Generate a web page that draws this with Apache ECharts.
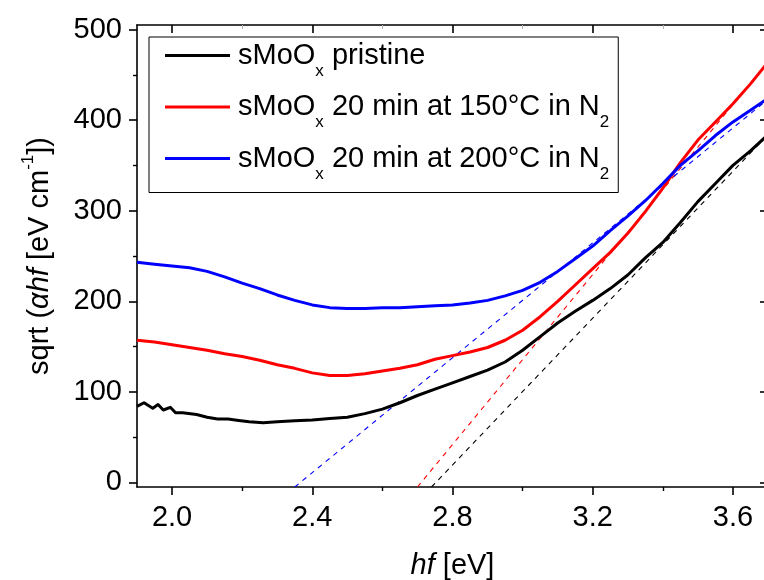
<!DOCTYPE html>
<html><head><meta charset="utf-8">
<script src="https://cdn.jsdelivr.net/npm/echarts@6/dist/echarts.min.js"></script>
<style>html,body{margin:0;padding:0;background:#fff}#c{width:764px;height:580px}</style>
</head><body><div id="c"></div>
<script>
// ---- tick labels ----
const xMajorTicks = [2.0, 2.4, 2.8, 3.2, 3.6];
const xMinorTicks = [2.2, 2.6, 3.0, 3.4];
const yMajorTicks = [0, 100, 200, 300, 400, 500];
const yMinorTicks = [50, 150, 250, 350, 450];

// ---- series: sMoOx pristine ----
const hfPristine = [1.90,1.92,1.945,1.96,1.975,1.995,2.01,2.03,2.07,2.10,2.13,2.16,2.19,2.22,2.26,2.30,2.35,2.40,2.45,2.50,2.55,2.60,2.65,2.70,2.75,2.80,2.85,2.90,2.95,3.00,3.05,3.10,3.15,3.20,3.25,3.30,3.35,3.40,3.45,3.50,3.55,3.60,3.65,3.70];
const valPristine = [84,88,82,86,80,83,77,77,75,72,70,70,68.5,67,66,67,68,69,70.5,72,76,81,88,96,103,110,117,124,133,146,161,176,189,201,214,229,248,265,287,310,330,350,366,384];

// ---- series on common grid (150 °C and 200 °C) ----
const hfGrid = [1.90,1.95,2.00,2.05,2.10,2.15,2.20,2.25,2.30,2.35,2.40,2.45,2.50,2.55,2.60,2.65,2.70,2.75,2.80,2.85,2.90,2.95,3.00,3.05,3.10,3.15,3.20,3.25,3.30,3.35,3.40,3.45,3.50,3.55,3.60,3.65,3.70];
const val150 = [157,155,152,149,146,142,139,135,130,126,121,118,118,120,123,126,130,136,140,144,149,157,168,183,200,218,236,254,275,299,325,353,378,398,418,440,464];
const val200 = [243,241,239,237,233,227,220,214,207,201,196,193,192,192,193,193,194,195,196,198,201,206,212,221,233,247,261,278,294,311,330,350,366,383,398,411,424];

// ---- linear fit (Tauc) lines: end points ----
const fitPristineHf = [2.74, 3.70];
const fitPristineVal = [-5, 384];
const fit150Hf = [2.70, 3.70];
const fit150Val = [-5, 464];
const fit200Hf = [2.35, 3.70];
const fit200Val = [-5, 423];

// ---- legend text parts ----
const legendBase = ['sMoO', 'sMoO', 'sMoO'];
const legendSub1 = ['x', 'x', 'x'];
const legendRest = [' pristine', ' 20 min at 150°C in N', ' 20 min at 200°C in N'];
const legendSub2 = ['', '2', '2'];
const seriesColors = ['#000000', '#ff0000', '#0000ff'];

const names = legendBase.map((b, i) => b + legendSub1[i] + legendRest[i] + legendSub2[i]);
const pairs = (xs, ys) => xs.map((x, i) => [x, ys[i]]);

const FONT = '"Liberation Sans", Arial, sans-serif';
const FS = 29;

function axisCommon(extra) {
  return Object.assign({
    type: 'value', gridIndex: 0,
    splitLine: { show: false },
    axisLine: { show: false, onZero: false },
    axisLabel: { show: false },
    axisTick: { show: false }
  }, extra);
}

const chart = echarts.init(document.getElementById('c'), null, { renderer: 'canvas' });

const solid = [pairs(hfPristine, valPristine), pairs(hfGrid, val150), pairs(hfGrid, val200)];
const fits = [pairs(fitPristineHf, fitPristineVal), pairs(fit150Hf, fit150Val), pairs(fit200Hf, fit200Val)];

const series = [];
fits.forEach((d, i) => series.push({
  type: 'line', name: 'fit' + i, data: d, symbol: 'none', z: 1, silent: true,
  lineStyle: { color: seriesColors[i], width: 1.1, type: [5, 5] }
}));
solid.forEach((d, i) => series.push({
  type: 'line', name: names[i], data: d, symbol: 'none', showSymbol: false, z: 3,
  color: seriesColors[i],
  lineStyle: { color: seriesColors[i], width: 3, join: 'round' }
}));

const xMin = 1.9, xMax = 3.7, yMin = -5, yMax = 505;

chart.setOption({
  animation: false,
  backgroundColor: '#fff',
  grid: { left: 137, right: -4, top: 25, bottom: 93, containLabel: false, outerBoundsMode: 'none' },
  legend: {
    orient: 'vertical', left: 149, top: 37,
    padding: [4, 9, 10, 16], itemGap: 13, itemWidth: 65, itemHeight: 3,
    borderColor: '#000', borderWidth: 1, backgroundColor: '#fff',
    selectedMode: false,
    data: names.map((n, i) => ({ name: n, icon: 'rect', itemStyle: { color: seriesColors[i] } })),
    formatter: function (name) {
      const i = names.indexOf(name);
      let s = '{m0|' + legendBase[i] + '}{s|' + legendSub1[i] + '}{m|' + legendRest[i] + '}';
      if (legendSub2[i]) s += '{s|' + legendSub2[i] + '}';
      return s;
    },
    textStyle: {
      color: '#000', fontSize: FS, fontFamily: FONT,
      rich: {
        m0: { fontSize: FS, fontFamily: FONT, color: '#000', lineHeight: 32, verticalAlign: 'middle', padding: [0, 0, 0, 3] },
        m: { fontSize: FS, fontFamily: FONT, color: '#000', lineHeight: 32, verticalAlign: 'middle' },
        s: { fontSize: 17, fontFamily: FONT, color: '#000', lineHeight: 1, height: 1, verticalAlign: 'bottom' }
      }
    }
  },
  xAxis: [
    axisCommon({
      position: 'bottom', min: xMin, max: xMax,
      axisLine: { show: true, onZero: false, lineStyle: { color: '#000', width: 1.6 } },
      axisTick: { show: true, inside: false, length: 8, customValues: xMajorTicks, lineStyle: { color: '#000', width: 1.6 } },
      axisLabel: { show: true, customValues: xMajorTicks, margin: 16, color: '#000', fontSize: FS, fontFamily: FONT,
        formatter: v => v.toFixed(1) },
      name: '{i|hf} [eV]', nameLocation: 'middle', nameGap: 64, nameMoveOverlap: false,
      nameTextStyle: { color: '#000', fontSize: FS, fontFamily: FONT, lineHeight: 30,
        rich: { i: { fontStyle: 'italic', fontSize: FS, fontFamily: FONT, color: '#000', lineHeight: 30 } } }
    }),
    axisCommon({
      position: 'bottom', min: xMin, max: xMax,
      axisTick: { show: true, inside: false, length: 4, customValues: xMinorTicks, lineStyle: { color: '#000', width: 1.4 } }
    }),
    axisCommon({
      position: 'top', min: xMin, max: xMax,
      axisLine: { show: true, onZero: false, lineStyle: { color: '#000', width: 1.6 } },
      axisTick: { show: true, inside: true, length: 8, customValues: xMajorTicks, lineStyle: { color: '#000', width: 1.6 } }
    }),
    axisCommon({
      position: 'top', min: xMin, max: xMax,
      axisTick: { show: true, inside: true, length: 4, customValues: xMinorTicks, lineStyle: { color: '#b0b0b0', width: 1 } }
    })
  ],
  yAxis: [
    axisCommon({
      position: 'left', min: yMin, max: yMax,
      axisLine: { show: true, onZero: false, lineStyle: { color: '#000', width: 1.6 } },
      axisTick: { show: true, inside: false, length: 8, customValues: yMajorTicks, lineStyle: { color: '#000', width: 1.6 } },
      axisLabel: { show: true, customValues: yMajorTicks, margin: 15, color: '#000', fontSize: FS, fontFamily: FONT },
      name: '{t|sqrt (}{i|αhf}{t| [eV cm}{sup|-1}{t|])}', nameLocation: 'middle', nameGap: 82, nameMoveOverlap: false,
      nameTextStyle: { color: '#000', fontSize: FS, fontFamily: FONT, lineHeight: 30,
        rich: {
          t: { fontSize: FS, fontFamily: FONT, color: '#000', lineHeight: 30, verticalAlign: 'middle' },
          i: { fontStyle: 'italic', fontSize: FS, fontFamily: FONT, color: '#000', lineHeight: 30, verticalAlign: 'middle' },
          sup: { fontSize: 17, fontFamily: FONT, color: '#000', lineHeight: 6, height: 6, verticalAlign: 'top' }
        } }
    }),
    axisCommon({
      position: 'left', min: yMin, max: yMax,
      axisTick: { show: true, inside: false, length: 4, customValues: yMinorTicks, lineStyle: { color: '#000', width: 1.4 } }
    }),
    axisCommon({
      position: 'right', min: yMin, max: yMax,
      axisLine: { show: true, onZero: false, lineStyle: { color: '#000', width: 1.6 } },
      axisTick: { show: true, inside: true, length: 8, customValues: yMajorTicks, lineStyle: { color: '#000', width: 1.6 } }
    }),
    axisCommon({
      position: 'right', min: yMin, max: yMax,
      axisTick: { show: true, inside: true, length: 4, customValues: yMinorTicks, lineStyle: { color: '#b0b0b0', width: 1 } }
    })
  ],
  series: series
});
</script>
</body></html>
